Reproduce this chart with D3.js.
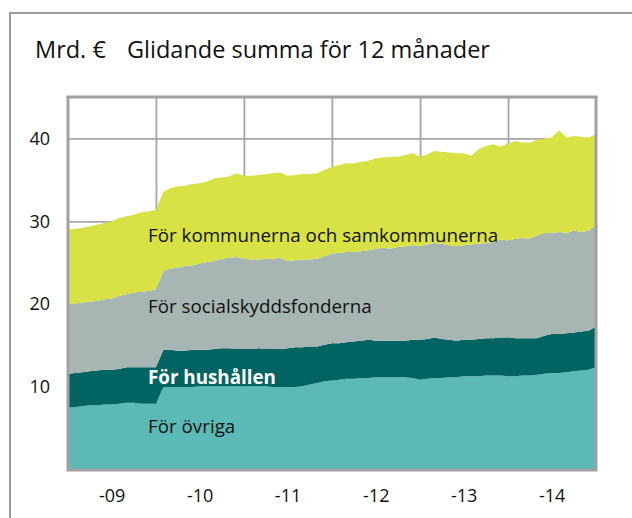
<!DOCTYPE html>
<html>
<head>
<meta charset="utf-8">
<script src="https://cdn.jsdelivr.net/npm/d3@7"></script>
<style>
  body { margin: 0; background: #fff; }
  text { font-family: "Open Sans", sans-serif; fill: #111; }
</style>
</head>
<body>
<div id="chart"></div>
<script>
// rolling 12-month sums, bn EUR, month ends Dec 2008 .. Dec 2014
var ovriga = [7.5,7.6,7.7,7.8,7.8,7.9,7.9,8.0,8.1,8.1,8.0,8.0,8.0,
  10.0,10.0,10.0,10.0,10.0,10.1,10.1,10.1,10.1,10.1,10.1,10.1,
  10.1,10.1,10.1,10.0,10.0,10.0,10.0,10.1,10.3,10.5,10.7,10.8,
  10.9,11.0,11.0,11.1,11.1,11.2,11.2,11.2,11.2,11.2,11.1,10.9,
  11.0,11.1,11.1,11.2,11.2,11.3,11.3,11.3,11.4,11.4,11.4,11.3,
  11.3,11.4,11.4,11.5,11.6,11.7,11.7,11.8,11.9,12.0,12.1,12.4];
var hushallen = [4.1,4.1,4.1,4.1,4.2,4.2,4.2,4.2,4.3,4.3,4.4,4.4,4.4,
  4.5,4.5,4.4,4.4,4.5,4.4,4.4,4.5,4.6,4.6,4.5,4.5,
  4.5,4.6,4.5,4.6,4.6,4.7,4.8,4.7,4.6,4.4,4.4,4.5,
  4.4,4.4,4.5,4.5,4.6,4.4,4.4,4.4,4.4,4.4,4.6,4.8,
  4.8,4.9,4.7,4.5,4.4,4.4,4.4,4.5,4.5,4.5,4.6,4.7,
  4.6,4.5,4.5,4.4,4.6,4.7,4.7,4.7,4.7,4.7,4.7,4.9];
var social = [8.4,8.4,8.4,8.4,8.4,8.5,8.6,8.8,8.8,9.0,9.1,9.2,9.4,
  9.5,9.8,10.0,10.2,10.2,10.4,10.6,10.6,10.8,10.9,11.1,10.9,
  10.8,10.7,10.9,10.9,11.0,10.5,10.5,10.6,10.5,10.6,10.7,10.8,
  10.9,10.9,10.8,10.8,10.8,11.1,11.2,11.1,11.3,11.4,11.4,11.3,
  11.4,11.4,11.5,11.4,11.4,11.4,11.5,11.5,11.5,11.6,11.8,11.7,
  12.0,12.1,12.0,12.4,12.4,12.2,12.3,12.1,12.3,12.0,12.1,12.2];
var kommunerna = [9.0,9.0,9.0,9.1,9.2,9.2,9.3,9.4,9.4,9.4,9.6,9.6,9.6,
  9.6,9.7,9.8,9.7,9.8,9.7,9.7,10.0,9.8,9.8,10.1,10.0,
  10.1,10.2,10.2,10.3,10.3,10.3,10.3,10.3,10.3,10.3,10.4,10.5,
  10.6,10.7,10.7,10.8,10.8,10.9,10.9,11.1,10.9,11.0,11.1,10.8,
  10.9,11.1,11.1,11.2,11.2,11.1,10.7,11.4,11.7,11.8,11.2,11.7,
  11.8,11.5,11.6,11.5,11.4,11.5,12.3,11.5,11.4,11.5,11.2,11.0];

var months = d3.timeMonth.range(new Date(2009, 0, 1), new Date(2015, 0, 2));
var keys = ["ovriga", "hushallen", "social", "kommunerna"];
var colors = ["#5bbab5", "#006463", "#a7b6b2", "#d8e244"];
var yTicks = [10, 20, 30, 40];
var years = [2009, 2010, 2011, 2012, 2013, 2014];

var cfg = { width: 632, height: 518, left: 68, right: 596, top: 97, bottom: 470 };

var svg = d3.select("#chart").append("svg")
    .attr("width", cfg.width)
    .attr("height", cfg.height);

// outer box
svg.append("rect")
    .attr("x", 10).attr("y", 13)
    .attr("width", 700).attr("height", 600)
    .style("fill", "none")
    .style("stroke", "#9b9b9b")
    .style("stroke-width", 2);

svg.append("text").attr("x", 35).attr("y", 58)
    .style("font-size", "23.5px").text("Mrd. €");
svg.append("text").attr("x", 127).attr("y", 58)
    .style("font-size", "23.5px").text("Glidande summa för 12 månader");

var x = d3.scaleTime()
    .domain([new Date(2009, 0, 1), new Date(2015, 0, 1)])
    .range([cfg.left, cfg.right]);
var y = d3.scaleLinear()
    .domain([0, 45])
    .range([cfg.bottom, cfg.top]);

var rows = months.map(function (d, i) {
  return { date: d, ovriga: ovriga[i], hushallen: hushallen[i], social: social[i], kommunerna: kommunerna[i] };
});
var stacked = d3.stack().keys(keys)(rows);

// grid
var gx = svg.append("g")
    .attr("transform", "translate(0," + cfg.bottom + ")")
    .call(d3.axisBottom(x)
      .tickValues(years.slice(1).map(function (yr) { return new Date(yr, 0, 1); }))
      .tickSize(-(cfg.bottom - cfg.top))
      .tickFormat(""));
gx.select(".domain").remove();

var gy = svg.append("g")
    .attr("transform", "translate(" + cfg.left + ",0)")
    .call(d3.axisLeft(y)
      .tickValues(yTicks)
      .tickSize(-(cfg.right - cfg.left))
      .tickPadding(18));
gy.select(".domain").remove();
gy.selectAll("text")
    .style("font-size", "18px")
    .style("font-family", "'Open Sans', sans-serif")
    .attr("fill", "#111");

svg.selectAll(".tick line")
    .style("stroke", "#a6a6aa")
    .style("stroke-width", 1.8);

// areas
var area = d3.area()
    .x(function (d) { return x(d.data.date); })
    .y0(function (d) { return y(d[0]); })
    .y1(function (d) { return y(d[1]); });

svg.selectAll(".layer")
    .data(stacked).enter()
    .append("path")
    .attr("class", "layer")
    .attr("d", area)
    .style("fill", function (d, i) { return colors[i]; });

// plot frame
svg.append("rect")
    .attr("x", cfg.left).attr("y", cfg.top)
    .attr("width", cfg.right - cfg.left)
    .attr("height", cfg.bottom - cfg.top)
    .style("fill", "none")
    .style("stroke", "#a0a0a4")
    .style("stroke-width", 3);

// year labels
var gl = svg.append("g")
    .attr("transform", "translate(0," + cfg.bottom + ")")
    .call(d3.axisBottom(x)
      .tickValues(years.map(function (yr) { return new Date(yr, 6, 1); }))
      .tickSize(0)
      .tickPadding(19)
      .tickFormat(d3.timeFormat("-%y")));
gl.select(".domain").remove();
gl.selectAll("text")
    .style("font-size", "18px")
    .style("font-family", "'Open Sans', sans-serif")
    .attr("fill", "#111");

// layer labels
var labels = [
  { text: "För övriga", y: 433, color: "#111", weight: "normal" },
  { text: "För hushållen", y: 384, color: "#ffffff", weight: "bold" },
  { text: "För socialskyddsfonderna", y: 313, color: "#111", weight: "normal" },
  { text: "För kommunerna och samkommunerna", y: 242, color: "#111", weight: "normal" }
];
svg.selectAll(".lbl")
    .data(labels).enter()
    .append("text")
    .attr("class", "lbl")
    .attr("x", 148)
    .attr("y", function (d) { return d.y; })
    .style("font-size", "18.8px")
    .style("font-weight", function (d) { return d.weight; })
    .style("fill", function (d) { return d.color; })
    .text(function (d) { return d.text; });
</script>
</body>
</html>
